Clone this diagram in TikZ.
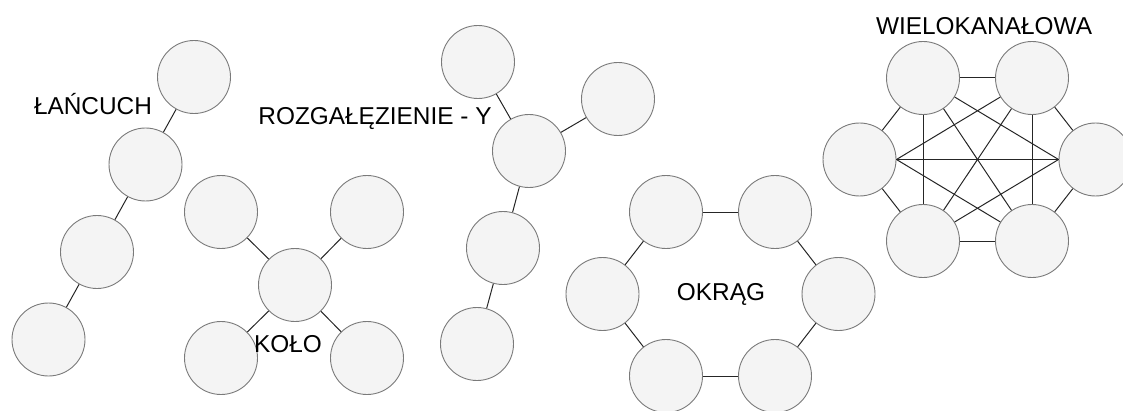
\documentclass[tikz,border=0pt]{standalone}
\usepackage{fontspec}
\setmainfont{Liberation Sans}
\usetikzlibrary{positioning}
\definecolor{ballfill}{HTML}{F4F4F4}
\definecolor{ballline}{HTML}{7A7A7A}
\definecolor{linkline}{HTML}{262626}

\begin{document}
\begin{tikzpicture}[x=1pt, y=1pt, on grid,
    ball/.style={circle, draw=ballline, fill=ballfill, line width=0.9pt, minimum size=73pt, inner sep=0pt},
    link/.style={draw=linkline, line width=1pt},
    grouptitle/.style={anchor=base, inner sep=0pt, font=\fontsize{24.4}{28}\selectfont}]

  \useasboundingbox (0,0) rectangle (1123,410);

  % chain
  \node[ball] (ch1) at (194,333) {};
  \node[ball] (ch2) [below left=87.5pt and 48.5pt of ch1] {};
  \node[ball] (ch3) [below left=87.5pt and 48.5pt of ch2] {};
  \node[ball] (ch4) [below left=87.5pt and 48.5pt of ch3] {};
  \node[grouptitle] (chtitle) at (93,295) {ŁAŃCUCH};

  % wheel
  \node[ball] (k0) at (295,125) {};
  \node[ball] (k1) [above left=73pt and 74pt of k0] {};
  \node[ball] (k2) [above right=73pt and 72pt of k0] {};
  \node[ball] (k3) [below left=73pt and 74pt of k0] {};
  \node[ball] (k4) [below right=73pt and 72pt of k0] {};
  \node[grouptitle] (ktitle) at (288,58) {KOŁO};

  % y branch
  \node[ball] (y0) at (529,259) {};
  \node[ball] (y1) [above left=89pt and 51pt of y0] {};
  \node[ball] (y2) [above right=52pt and 89pt of y0] {};
  \node[ball] (y3) [below left=97pt and 26pt of y0] {};
  \node[ball] (y4) [below left=96pt and 26pt of y3] {};
  \node[grouptitle] (ytitle) at (375,285) {ROZGAŁĘZIENIE - Y};

  % circle
  \node[ball] (r1) at (666,198) {};
  \node[ball] (r2) [right=109pt of r1] {};
  \node[ball] (r3) [below right=82pt and 63.5pt of r2] {};
  \node[ball] (r4) [below left=82pt and 63.5pt of r3] {};
  \node[ball] (r5) [left=109pt of r4] {};
  \node[ball] (r6) [above left=82pt and 63.5pt of r5] {};
  \node[grouptitle] (rtitle) at (721,110) {OKRĄG};

  % mesh
  \node[ball] (m1) at (923,332) {};
  \node[ball] (m2) [right=109pt of m1] {};
  \node[ball] (m3) [below right=81.5pt and 63.5pt of m2] {};
  \node[ball] (m4) [below left=81.5pt and 63.5pt of m3] {};
  \node[ball] (m5) [left=109pt of m4] {};
  \node[ball] (m6) [above left=81.5pt and 63.5pt of m5] {};
  \node[grouptitle] (mtitle) at (984,375) {WIELOKANAŁOWA};

  \path[link]
    (ch1) edge (ch2)
    (ch2) edge (ch3)
    (ch3) edge (ch4)

    (k0) edge (k1)
    (k0) edge (k2)
    (k0) edge (k3)
    (k0) edge (k4)

    (y0) edge (y1)
    (y0) edge (y2)
    (y0) edge (y3)
    (y3) edge (y4)

    (r1) edge (r2)
    (r2) edge (r3)
    (r3) edge (r4)
    (r4) edge (r5)
    (r5) edge (r6)
    (r6) edge (r1)

    (m1) edge (m2)
    (m2) edge (m3)
    (m3) edge (m4)
    (m4) edge (m5)
    (m5) edge (m6)
    (m6) edge (m1)
    (m1) edge (m5)
    (m2) edge (m4)
    (m1) edge (m4)
    (m2) edge (m5)
    (m6.east) edge (m2)
    (m6.east) edge (m3.west)
    (m6.east) edge (m4)
    (m3.west) edge (m1)
    (m3.west) edge (m5);

\end{tikzpicture}
\end{document}
